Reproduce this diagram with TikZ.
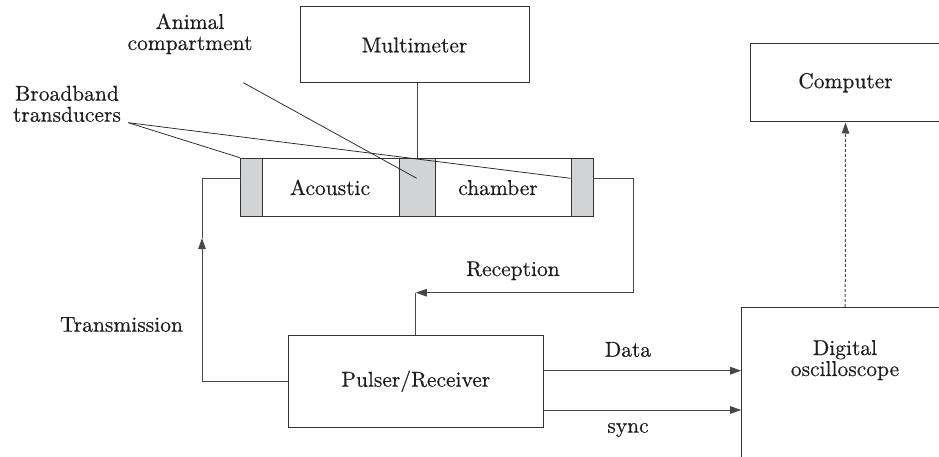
\documentclass[tikz,border=0pt]{standalone}
\usepackage{fontspec}
\setmainfont{lmroman10-regular.otf}
\newfontfamily\labelfont{lmroman10-regular.otf}[FakeBold=0.45]
\usetikzlibrary{arrows.meta}
\definecolor{tgray}{HTML}{D1D3D4}
\definecolor{ink}{HTML}{1E1E1E}
\begin{document}
\begin{tikzpicture}[x=1pt,y=-1pt,
  every node/.style={font=\labelfont\fontsize{21.5}{21}\selectfont, text=ink, inner sep=0pt},
  box/.style={draw=black!80, line width=1pt, fill=white},
  trans/.style={draw=black!80, line width=1pt, fill=tgray},
  wire/.style={draw=black!72, line width=1pt},
  leader/.style={draw=black!85, line width=0.75pt},
  tip/.style={-{Triangle[length=11pt,width=7.5pt]}},
  lbl/.style={anchor=base, align=center}]
\useasboundingbox (0,0) rectangle (939,457);
\clip (0,0) rectangle (939,457);

% boxes
\node[box, minimum width=229pt, minimum height=76pt] (mm) at (414.5,45) {Multimeter};
\node[box, minimum width=189.6pt, minimum height=78.7pt] (comp) at (845.5,82.65) {Computer};
\node[box, minimum width=255pt, minimum height=92pt] (pr) at (415.8,381.3) {Pulser/Receiver};
\node[box, minimum width=207pt, minimum height=200pt] (osc) at (845.2,407.3) {};
\node[lbl] (osct) at (845,376) {Digital\\oscilloscope};

% acoustic chamber
\node[box, minimum width=352.3pt, minimum height=58.4pt] (ch) at (416.85,187.5) {};
\node[trans, minimum width=21.6pt, minimum height=58.4pt] (lt) at (251.5,187.5) {};
\node[trans, minimum width=36pt, minimum height=58.4pt] (mc) at (417.3,187.5) {};
\node[trans, minimum width=22pt, minimum height=58.4pt] (rt) at (582,187.5) {};
\node[lbl] (acou) at (330,195) {Acoustic};
\node[lbl] (cham) at (498,195) {chamber};

% multimeter link
\draw[wire] (mc.north) -- (mc.north |- mm.south);

% transmission
\coordinate (tin) at (240.7,178.3);
\coordinate (tcorner) at (202,178.3);
\coordinate (tarrow) at (202,238);
\draw[wire,tip] (pr.west) -| (tarrow);
\draw[wire] (tarrow) -- (tcorner) -- (tin);

% reception
\coordinate (rout) at (593,178.3);
\coordinate (rc1) at (633,178.3);
\coordinate (rc2) at (633,292.7);
\coordinate (rarrow) at (pr.north |- rc2);
\draw[wire,tip] (rout) -- (rc1) -- (rc2) -- (rarrow);
\draw[wire] (pr.north) -- (rarrow);

% data and sync
\coordinate (dy) at (0,370.7);
\coordinate (sy) at (0,410);
\draw[wire,tip] (pr.east |- dy) -- (osc.west |- dy);
\draw[wire,tip] (pr.east |- sy) -- (osc.west |- sy);

% oscilloscope to computer
\draw[wire, dash pattern=on 3pt off 2pt, tip] (osc.north) -- (comp.south);

% labels
\node[lbl] (lrec) at (513,276) {Reception};
\node[lbl] (ldata) at (628,356.7) {Data};
\node[lbl] (lsync) at (628,432.7) {sync};
\node[lbl] (ltx) at (121.5,331.7) {Transmission};
\node[lbl] (lbb) at (67,121.7) {Broadband\\transducers};
\node[lbl] (lan) at (190,50) {Animal\\compartment};

% leaders
\coordinate (bb) at (128.3,122.7);
\coordinate (an) at (243.3,82.7);
\coordinate (anend) at (416.7,178.3);
\draw[leader] (bb) -- (lt.north west);
\draw[leader] (bb) -- (rt.west |- tin);
\draw[leader] (an) -- (anend);
\end{tikzpicture}
\end{document}
